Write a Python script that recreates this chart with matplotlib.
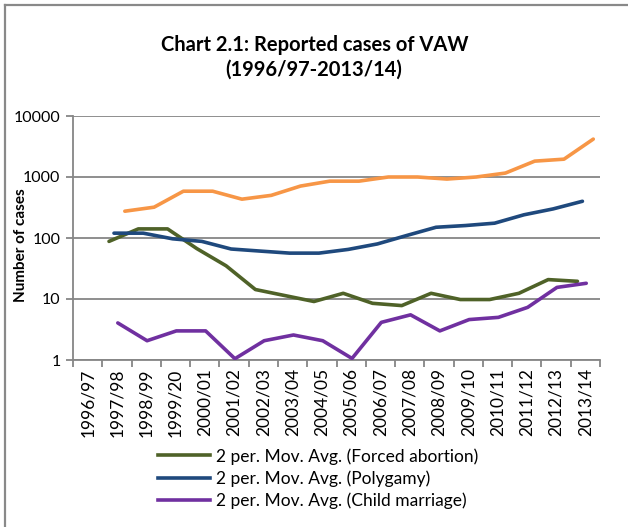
import matplotlib
matplotlib.use("Agg")
import matplotlib.pyplot as plt
from matplotlib.lines import Line2D
import numpy as np

categories = ["1996/97", "1997/98", "1998/99", "1999/20", "2000/01", "2001/02",
              "2002/03", "2003/04", "2004/05", "2005/06", "2006/07", "2007/08",
              "2008/09", "2009/10", "2010/11", "2011/12", "2012/13", "2013/14"]

# moving averages start at the second category (index 1)
orange_vals = [275, 320, 585, 585, 433, 500, 710, 855, 855, 1000, 1000, 925,
               1000, 1160, 1820, 1960, 4180]
forced_abortion = [88, 141, 141, 67, 35, 14.3, 11.4, 9.1, 12.4, 8.5, 7.8, 12.4,
                   9.8, 9.8, 12.4, 20.8, 19.5]
polygamy = [120, 120, 97, 88, 66, 61, 56.5, 56.5, 65, 80, 110, 150, 160, 175,
            240, 300, 400]
child_marriage = [4.05, 2.07, 3.0, 3.0, 1.05, 2.07, 2.57, 2.07, 1.06, 4.14, 5.5,
                  3.0, 4.6, 5.0, 7.3, 15.5, 18.1]

legend_labels = ["2 per. Mov. Avg. (Forced abortion)",
                 "2 per. Mov. Avg. (Polygamy)",
                 "2 per. Mov. Avg. (Child marriage)"]

plt.rcParams['font.family'] = ['Lato', 'DejaVu Sans']

fig = plt.figure(figsize=(6.28, 5.27), dpi=100)
ax = fig.add_axes([73/628, 1 - 360/527, (600-73)/628, (360-116)/527])

x_all = np.arange(len(categories))
xs = x_all[1:]
lw = 2.6
ax.plot(xs + 0.27, orange_vals, color="#F79646", lw=lw, solid_capstyle="round", zorder=3)
ax.plot(xs - 0.27, forced_abortion, color="#4F6228", lw=lw, solid_capstyle="round", zorder=3)
ax.plot(xs - 0.1, polygamy, color="#1F497D", lw=lw, solid_capstyle="round", zorder=3)
ax.plot(xs + 0.03, child_marriage, color="#7030A0", lw=lw, solid_capstyle="round", zorder=3)

ax.set_yscale("log")
ax.set_ylim(1, 10000)
ax.set_yticks([1, 10, 100, 1000, 10000])
ax.set_yticklabels(["1", "10", "100", "1000", "10000"])
ax.yaxis.set_minor_locator(matplotlib.ticker.NullLocator())
ax.grid(axis="y", color="#868686", lw=1.3)
ax.set_axisbelow(True)

ax.set_xlim(-0.5, len(categories) - 0.5)
ax.set_xticks(x_all)
ax.set_xticklabels(categories, rotation=90, fontsize=12.5)
ax.set_xticks(np.arange(-0.5, len(categories)), minor=True)
ax.tick_params(axis="x", which="major", length=0, pad=6)
ax.tick_params(axis="x", which="minor", length=5, color="#868686", width=1.3, direction="out")
ax.tick_params(axis="y", length=5, color="#868686", width=1.3, labelsize=11.5, pad=4)

for s in ["top", "right"]:
    ax.spines[s].set_visible(False)
for s in ["left", "bottom"]:
    ax.spines[s].set_color("#868686")
    ax.spines[s].set_linewidth(1.3)

fig.text(21/628, 1 - 245/527, "Number of cases", rotation=90, fontsize=11,
         fontweight="bold", ha="center", va="center")

fig.text(315/628, 1 - 45/527, "Chart 2.1: Reported cases of VAW", fontsize=14.5,
         fontweight="bold", ha="center", va="center")
fig.text(314/628, 1 - 70/527, "(1996/97-2013/14)", fontsize=14.5,
         fontweight="bold", ha="center", va="center")

handles = [Line2D([], [], color=c, lw=lw) for c in ["#4F6228", "#1F497D", "#7030A0"]]
fig.legend(handles, legend_labels, loc="upper left",
           bbox_to_anchor=(158/628, 1 - 448/527), frameon=False, fontsize=12.5,
           handlelength=3.0, handletextpad=0.35, labelspacing=0.33, borderaxespad=0,
           borderpad=0)

# outer chart frame (left and top edges visible)
fig.add_artist(Line2D([5/628, 5/628], [0, 1 - 5/527], color="#898989", lw=1.6,
                      transform=fig.transFigure))
fig.add_artist(Line2D([5/628, 1], [1 - 5/527, 1 - 5/527], color="#898989", lw=1.6,
                      transform=fig.transFigure))

fig.savefig("out.png", dpi=100)
